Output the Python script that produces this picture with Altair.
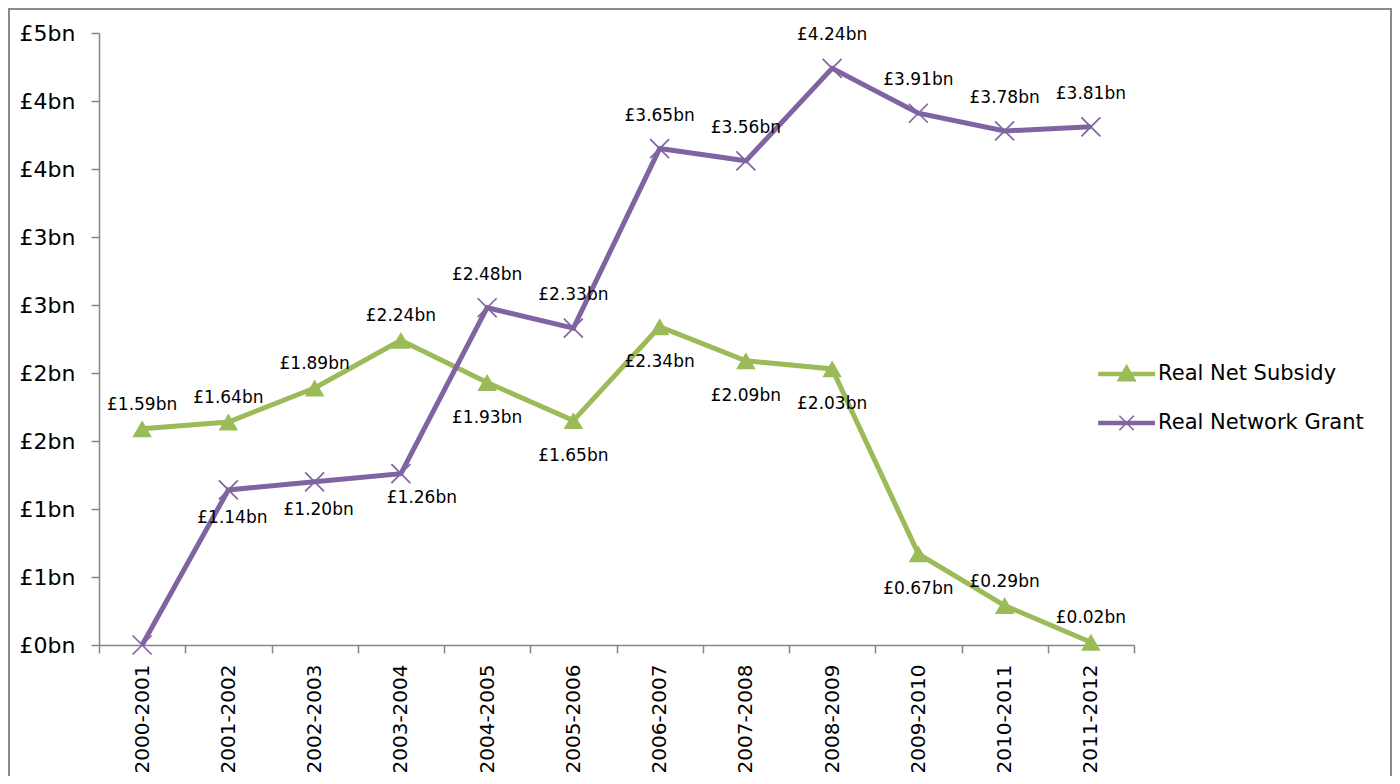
import altair as alt
import pandas as pd

# ---- data ----
years = ["2000-2001", "2001-2002", "2002-2003", "2003-2004", "2004-2005", "2005-2006",
         "2006-2007", "2007-2008", "2008-2009", "2009-2010", "2010-2011", "2011-2012"]
series_names = ["Real Net Subsidy", "Real Network Grant"]
net_subsidy = [1.59, 1.64, 1.89, 2.24, 1.93, 1.65, 2.34, 2.09, 2.03, 0.67, 0.29, 0.02]
network_grant = [0.00, 1.14, 1.20, 1.26, 2.48, 2.33, 3.65, 3.56, 4.24, 3.91, 3.78, 3.81]
subsidy_label_side = ["above", "above", "above", "above", "below", "below",
                      "below", "below", "below", "below", "above", "above"]
grant_label_side = ["none", "below", "below", "below-right", "above", "above",
                    "above", "above", "above", "above", "above", "above"]
y_ticks = [0, 0.5, 1, 1.5, 2, 2.5, 3, 3.5, 4, 4.5]
colors = ["#9BBB59", "#8064A2"]

rows = []
for name, vals, sides in [(series_names[0], net_subsidy, subsidy_label_side),
                          (series_names[1], network_grant, grant_label_side)]:
    for yr, v, s in zip(years, vals, sides):
        rows.append({"year": yr, "series": name, "value": v, "side": s,
                     "label": "£%.2fbn" % v})
df = pd.DataFrame(rows)

FONT = "DejaVu Sans"
W, H = 1035, 612

x_enc = alt.X("year:N", sort=years, title=None,
              scale=alt.Scale(type="band", paddingInner=0, paddingOuter=0),
              axis=alt.Axis(tickBand="extent", labelAngle=270, labelFontSize=20,
                            labelFont=FONT, labelColor="black", labelPadding=11,
                            domainColor="#868686", domainWidth=1.5,
                            tickColor="#868686", tickWidth=1.5, tickSize=8,
                            grid=False))
y_enc = alt.Y("value:Q", title=None,
              scale=alt.Scale(domain=[0, 4.5], nice=False, zero=True),
              axis=alt.Axis(values=y_ticks,
                            labelExpr="'£' + round(datum.value) + 'bn'",
                            labelFontSize=22, labelFont=FONT, labelColor="black",
                            labelPadding=16, domainColor="#868686", domainWidth=1.5,
                            tickColor="#868686", tickWidth=1.5, tickSize=8,
                            grid=False))
color_scale = alt.Scale(domain=series_names, range=colors)

base = alt.Chart(df)


def series_lines(name):
    return base.transform_filter(alt.datum.series == name).mark_line(strokeWidth=5).encode(
        x=x_enc, y=y_enc,
        color=alt.Color("series:N", scale=color_scale, legend=None))


tri = base.transform_filter(alt.datum.series == series_names[0]).mark_point(
    shape="triangle-up", filled=True, size=380, opacity=1).encode(
    x=x_enc, y=y_enc, color=alt.Color("series:N", scale=color_scale, legend=None))

crs = base.transform_filter(alt.datum.series == series_names[1]).mark_point(
    shape="M-1,-1L1,1M-1,1L1,-1", filled=False, size=360, opacity=1,
    strokeWidth=1.7).encode(
    x=x_enc, y=y_enc, color=alt.Color("series:N", scale=color_scale, legend=None))

offsets = {
    (series_names[0], "above"): (0, -24),
    (series_names[0], "below"): (0, 35),
    (series_names[1], "above"): (0, -33),
    (series_names[1], "below"): (4, 28),
    (series_names[1], "below-right"): (21, 24),
}
label_layers = []
for (sname, side), (dx, dy) in offsets.items():
    label_layers.append(
        base.transform_filter((alt.datum.series == sname) & (alt.datum.side == side))
        .mark_text(font=FONT, fontSize=17, color="black", dx=dx, dy=dy)
        .encode(x=x_enc, y=y_enc, text="label:N"))

legend_paths = [
    "M-1.15,-0.065H1.15V0.065H-1.15Z M0,-0.36L0.36,0.28H-0.36Z",
    "M-1.15,-0.065H1.15V0.065H-1.15Z M-0.3,-0.3L0.3,0.3 M-0.3,0.3L0.3,-0.3",
]
legend_props = dict(
    title=None, orient="none", legendX=1002.6, legendY=316, padding=0,
    symbolSize=2304, labelFontSize=21, labelFont=FONT, labelColor="black",
    labelOffset=6.5, rowPadding=14, labelLimit=400, symbolStrokeWidth=1.6,
    symbolOpacity=1,
)
# invisible layer that only carries the legend (line + marker symbols)
legend_layer = base.mark_point(opacity=0, filled=False, size=1).encode(
    x=x_enc, y=y_enc,
    stroke=alt.Stroke("series:N", scale=alt.Scale(domain=series_names, range=colors),
                      legend=alt.Legend(**legend_props)),
    fill=alt.Fill("series:N", scale=alt.Scale(domain=series_names, range=colors),
                  legend=alt.Legend(**legend_props)),
    shape=alt.Shape("series:N", scale=alt.Scale(domain=series_names, range=legend_paths),
                    legend=alt.Legend(**legend_props)))

frame = alt.Chart(alt.Data(values=[{}])).mark_rect(
    fill="transparent", stroke="#8a8a8a", strokeWidth=2).encode(
    x=alt.value(-90), x2=alt.value(1292), y=alt.value(-24), y2=alt.value(800))

chart = alt.layer(frame, legend_layer, series_lines(series_names[0]), tri,
                  series_lines(series_names[1]), crs, *label_layers).properties(
    width=W, height=H,
    autosize=alt.AutoSizeParams(type="none"),
    padding={"left": 91, "top": 25, "right": 258, "bottom": 131},
).configure(background="white").configure_view(stroke="transparent", strokeWidth=0)

chart.save("out.html", embed_options={"renderer": "svg", "actions": False})
